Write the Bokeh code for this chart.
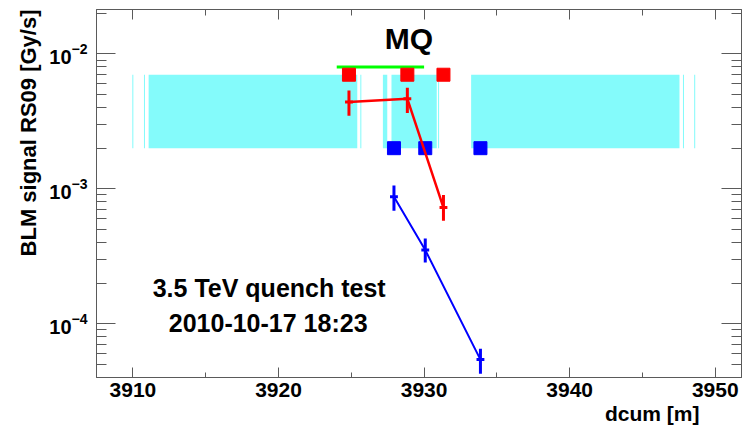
from bokeh.plotting import figure
from bokeh.models import (Range1d, LinearAxis, LogAxis, FixedTicker,
                          SingleIntervalTicker, Label, CustomJSTickFormatter, Title)
from bokeh.embed import file_html
from bokeh.resources import INLINE

# ---------------- data ----------------
# cyan detector/element bands (dcum [m])
band_left = [3909.96, 3910.76, 3911.08, 3925.62, 3927.17, 3927.76, 3930.96, 3933.23, 3947.78, 3948.55]
band_right = [3910.03, 3910.83, 3925.41, 3925.69, 3927.47, 3930.87, 3931.03, 3947.54, 3947.85, 3948.62]
band_bottom = 2e-3
band_top = 7e-3

# green magnet marker
green_x = [3924.0, 3930.0]
green_y = [8e-3, 8e-3]

# red monitors
red_x = [3924.84, 3928.85, 3931.33]
red_sq_y = [7e-3, 7e-3, 7e-3]
red_y = [4.40e-3, 4.64e-3, 7.26e-4]
red_lo = [3.48e-3, 3.65e-3, 5.79e-4]
red_hi = [5.35e-3, 5.60e-3, 8.98e-4]

# blue monitors
blue_x = [3927.93, 3930.08, 3933.87]
blue_sq_y = [2e-3, 2e-3, 2e-3]
blue_y = [8.72e-4, 3.52e-4, 5.43e-5]
blue_lo = [6.87e-4, 2.84e-4, 4.27e-5]
blue_hi = [1.057e-3, 4.28e-4, 6.53e-5]

x_err = [0.27, 0.27, 0.27]

x_major = 10
y_major = [1e-5, 1e-4, 1e-3, 1e-2, 1e-1]
y_minor = [m * d for d in [1e-5, 1e-4, 1e-3, 1e-2] for m in range(2, 10)]

FONT = "Liberation Sans"
AX = "#5a5a5a"

p = figure(width=752, height=425, y_axis_type="log",
           x_range=Range1d(3907.5, 3951.8), y_range=Range1d(4e-5, 2.13e-2),
           output_backend="svg", toolbar_location=None,
           min_border_left=96, min_border_right=11, min_border_top=9,
           min_border_bottom=48)
p.xgrid.visible = False
p.ygrid.visible = False
p.outline_line_color = AX
p.background_fill_color = "white"
p.border_fill_color = "white"

# bands
p.quad(left=band_left, right=band_right, bottom=band_bottom, top=band_top,
       fill_color="#84fbfb", line_color=None)

p.line(green_x, green_y, line_color="#00ff00", line_width=3)

p.scatter(red_x, red_sq_y, marker="square", size=13, color="#ff0000")
p.scatter(blue_x, blue_sq_y, marker="square", size=13, color="#0000ff")

for xs, ys, lo, hi, col, lw in [(red_x, red_y, red_lo, red_hi, "#ff0000", 2.5),
                               (blue_x, blue_y, blue_lo, blue_hi, "#0000ff", 2)]:
    p.line(xs, ys, line_color=col, line_width=lw)
    p.segment(x0=xs, y0=lo, x1=xs, y1=hi, line_color=col, line_width=3)
    p.segment(x0=[x - e for x, e in zip(xs, x_err)], y0=ys,
              x1=[x + e for x, e in zip(xs, x_err)], y1=ys,
              line_color=col, line_width=3)

# texts
p.add_layout(Label(x=3928.95, y=1.30e-2, text="MQ", text_align="center",
                   text_baseline="middle", text_font=FONT, text_font_style="bold",
                   text_font_size="30px", text_color="black"))
p.add_layout(Label(x=3919.36, y=1.834e-4, text="3.5 TeV quench test", text_align="center",
                   text_baseline="middle", text_font=FONT, text_font_style="bold",
                   text_font_size="25px", text_color="black"))
p.add_layout(Label(x=3919.29, y=1.008e-4, text="2010-10-17 18:23", text_align="center",
                   text_baseline="middle", text_font=FONT, text_font_style="bold",
                   text_font_size="25px", text_color="black"))

# axes
def style(ax, tin, tmin):
    ax.axis_line_color = AX
    ax.major_tick_line_color = AX
    ax.minor_tick_line_color = AX
    ax.major_tick_in = tin
    ax.major_tick_out = 0
    ax.minor_tick_in = tmin
    ax.minor_tick_out = 0
    ax.major_label_text_font = FONT
    ax.major_label_text_font_style = "bold"
    ax.major_label_text_color = "black"

xt = SingleIntervalTicker(interval=x_major, num_minor_ticks=2)
yt = FixedTicker(ticks=y_major, minor_ticks=y_minor)

xa = p.xaxis[0]
xa.ticker = xt
style(xa, 10, 5)
xa.major_label_text_font_size = "21px"
xa.major_label_standoff = 5

ya = p.yaxis[0]
ya.ticker = yt
style(ya, 19, 10)
ya.major_label_text_font_size = "20px"
ya.major_label_standoff = 9

# axis titles (ROOT style: aligned to the axis end)
p.add_layout(Title(text="dcum [m]", align="right", offset=42, standoff=0,
                   text_font=FONT, text_font_style="bold", text_font_size="21px",
                   text_color="black"), "below")
p.add_layout(Title(text="BLM signal RS09 [Gy/s]", align="right", offset=0, standoff=12,
                   text_font=FONT, text_font_style="bold", text_font_size="22px",
                   text_color="black"), "left")

blank = CustomJSTickFormatter(code="return ''")

top = LinearAxis(ticker=xt, formatter=blank)
style(top, 10, 6)
top.major_label_standoff = 0
p.add_layout(top, "above")

right = LogAxis(ticker=yt, formatter=blank)
style(right, 20, 10)
right.major_label_standoff = 0
p.add_layout(right, "right")

open("out.html", "w").write(file_html(p, INLINE))
